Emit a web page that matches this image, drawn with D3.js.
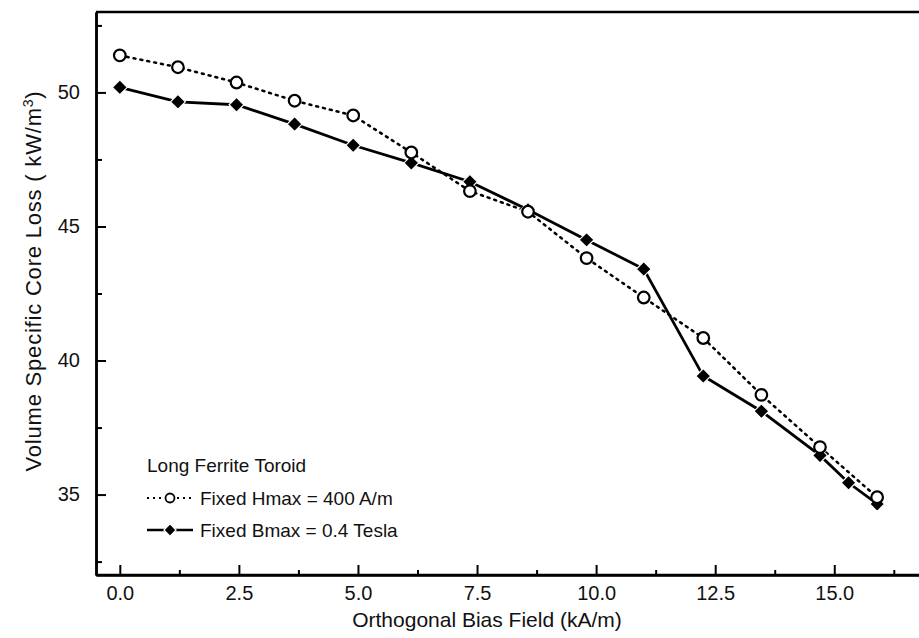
<!DOCTYPE html>
<html>
<head>
<meta charset="utf-8">
<script src="https://cdn.jsdelivr.net/npm/d3@7"></script>
<style>
  body { margin: 0; background: #fff; }
  svg { display: block; font-family: "Liberation Sans", Arial, sans-serif; }
  .axis path, .axis line { stroke: #000; }
  .axis text { fill: #111; font-size: 20px; }
</style>
</head>
<body>
<div id="chart"></div>
<script>
// values
var fieldH = [0, 1.22, 2.45, 3.67, 4.9, 6.12, 7.35, 8.57, 9.8, 11.0, 12.25, 13.47, 14.7, 15.9];
var lossH  = [51.38, 50.94, 50.37, 49.69, 49.14, 47.76, 46.32, 45.55, 43.82, 42.35, 40.84, 38.72, 36.77, 34.90];
var fieldB = [0, 1.22, 2.45, 3.67, 4.9, 6.12, 7.35, 8.57, 9.8, 11.0, 12.25, 13.47, 14.7, 15.3, 15.9];
var lossB  = [50.19, 49.65, 49.54, 48.82, 48.03, 47.37, 46.67, 45.62, 44.50, 43.41, 39.42, 38.11, 36.46, 35.44, 34.65];
var xMajor = [0, 2.5, 5, 7.5, 10, 12.5, 15];
var xMinor = [1.25, 3.75, 6.25, 8.75, 11.25, 13.75, 16.25];
var yMajor = [35, 40, 45, 50];
var yMinor = [32.5, 37.5, 42.5, 47.5, 52.5];
var legendTitle = "Long Ferrite Toroid";
var legendH = "Fixed Hmax = 400 A/m";
var legendB = "Fixed Bmax = 0.4 Tesla";

var width = 919, height = 638;

var svg = d3.select("#chart").append("svg")
    .attr("width", width)
    .attr("height", height);

var x = d3.scaleLinear().domain([-0.5, 16.8]).range([96, 920]);
var y = d3.scaleLinear().domain([32, 53]).range([575, 12]);

var seriesH = fieldH.map((f, i) => ({ f: f, v: lossH[i] }));
var seriesB = fieldB.map((f, i) => ({ f: f, v: lossB[i] }));

/* frame: top line */
svg.append("line")
    .attr("x1", x.range()[0]).attr("x2", width)
    .attr("y1", y.range()[1]).attr("y2", y.range()[1])
    .attr("stroke", "#000").attr("stroke-width", 2.5);

/* axes */
var xAxis = d3.axisBottom(x).tickValues(xMajor).tickFormat(d3.format(".1f"))
    .tickSizeInner(-10).tickSizeOuter(0).tickPadding(11);
var xAxisMinor = d3.axisBottom(x).tickValues(xMinor).tickFormat("")
    .tickSizeInner(-5).tickSizeOuter(0);
var yAxis = d3.axisLeft(y).tickValues(yMajor).tickFormat(d3.format("d"))
    .tickSizeInner(-10).tickSizeOuter(0).tickPadding(16);
var yAxisMinor = d3.axisLeft(y).tickValues(yMinor).tickFormat("")
    .tickSizeInner(-6).tickSizeOuter(0);

var gx = svg.append("g").attr("class", "x axis")
    .attr("transform", `translate(0, ${y.range()[0]})`)
    .call(xAxis);
svg.append("g").attr("class", "x axis")
    .attr("transform", `translate(0, ${y.range()[0]})`)
    .call(xAxisMinor);
gx.select(".domain").attr("d", `M${x.range()[0]},0H${width}`);

svg.append("g").attr("class", "y axis")
    .attr("transform", `translate(${x.range()[0]}, 0)`)
    .call(yAxis);
svg.append("g").attr("class", "y axis")
    .attr("transform", `translate(${x.range()[0]}, 0)`)
    .call(yAxisMinor);

svg.selectAll(".axis path").attr("stroke-width", 2.5);
svg.selectAll(".axis line").attr("stroke-width", 2);

/* axis titles */
svg.append("text")
    .attr("x", 487).attr("y", 627)
    .attr("text-anchor", "middle")
    .style("font-size", "21px").attr("fill", "#111")
    .text("Orthogonal Bias Field (kA/m)");

var yt = svg.append("text")
    .attr("transform", "translate(41, 281) rotate(-90)")
    .attr("text-anchor", "middle")
    .style("font-size", "22px").style("letter-spacing", "0.8px")
    .attr("fill", "#111");
yt.append("tspan").text("Volume Specific Core Loss ( kW/m");
yt.append("tspan").attr("dy", -8).style("font-size", "14px").text("3");
yt.append("tspan").attr("dy", 8).text(")");

/* lines */
var line = d3.line().x(d => x(d.f)).y(d => y(d.v));

svg.append("path").datum(seriesH)
    .attr("d", line)
    .attr("fill", "none").attr("stroke", "#000")
    .attr("stroke-width", 2.5)
    .attr("stroke-dasharray", "2,5")
    .attr("stroke-linecap", "round");

svg.append("path").datum(seriesB)
    .attr("d", line)
    .attr("fill", "none").attr("stroke", "#000")
    .attr("stroke-width", 2.8);

/* markers */
var diamond = d3.symbol().type(d3.symbolDiamond2).size(140);

svg.append("g").selectAll("path")
    .data(seriesB).enter()
    .append("path")
    .attr("d", diamond)
    .attr("transform", d => `translate(${x(d.f)}, ${y(d.v)})`)
    .attr("fill", "#000")
    .attr("stroke", "#fff").attr("stroke-width", 1.2);

svg.append("g").selectAll("circle")
    .data(seriesH).enter()
    .append("circle")
    .attr("cx", d => x(d.f))
    .attr("cy", d => y(d.v))
    .attr("r", 5.8)
    .attr("fill", "#fff")
    .attr("stroke", "#000").attr("stroke-width", 2.2);

/* legend */
var lg = svg.append("g").attr("transform", "translate(147, 0)");
lg.append("text").attr("x", 0).attr("y", 472)
    .style("font-size", "19px").attr("fill", "#111")
    .text(legendTitle);

lg.append("line").attr("x1", 0).attr("x2", 46).attr("y1", 498).attr("y2", 498)
    .attr("stroke", "#000").attr("stroke-width", 2)
    .attr("stroke-dasharray", "2,4");
lg.append("circle").attr("cx", 23).attr("cy", 498).attr("r", 4.5)
    .attr("fill", "#fff").attr("stroke", "#000").attr("stroke-width", 1.8);
lg.append("text").attr("x", 53).attr("y", 505)
    .style("font-size", "19px").attr("fill", "#111")
    .text(legendH);

lg.append("line").attr("x1", 0).attr("x2", 46).attr("y1", 530).attr("y2", 530)
    .attr("stroke", "#000").attr("stroke-width", 2.5);
lg.append("path").attr("d", d3.symbol().type(d3.symbolDiamond2).size(95))
    .attr("transform", "translate(23, 530)")
    .attr("fill", "#000").attr("stroke", "#fff").attr("stroke-width", 1.2);
lg.append("text").attr("x", 53).attr("y", 537)
    .style("font-size", "19px").attr("fill", "#111")
    .text(legendB);
</script>
</body>
</html>
